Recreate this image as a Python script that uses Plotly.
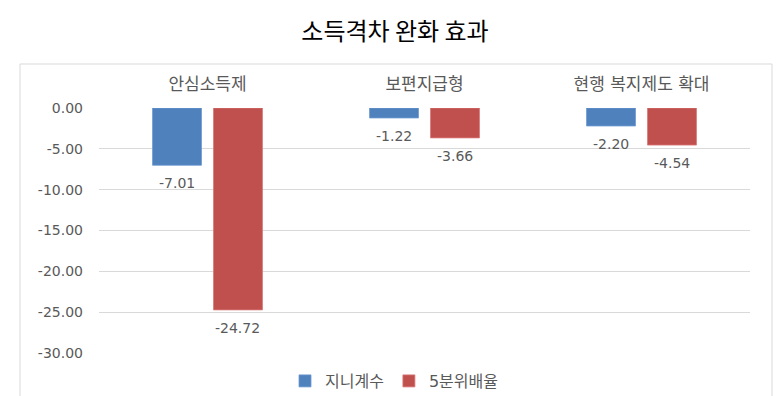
import plotly.graph_objects as go

categories = ["안심소득제", "보편지급형", "현행 복지제도 확대"]
gini = [-7.01, -1.22, -2.20]
quintile = [-24.72, -3.66, -4.54]
series_names = ["지니계수", "5분위배율"]
title_text = "소득격차 완화 효과"
tick_values = [0, -5, -10, -15, -20, -25, -30]
tick_labels = ["0.00", "-5.00", "-10.00", "-15.00", "-20.00", "-25.00", "-30.00"]

W, H = 779, 396
ML, MR, MT, MB = 99, 29, 108, 43
PW, PH = W - ML - MR, H - MT - MB

KFONT = "DejaVu Sans, Noto Sans CJK KR, sans-serif"
GRAY = "#595959"
COLORS = ["#4F81BD", "#C0504D"]
EDGES = ["#6E9AD0", "#D9797A"]

BARGAP = 0.438
GROUPGAP = 0.197
cat_px = PW / len(categories)
slot_px = cat_px * (1 - BARGAP) / 2

fig = go.Figure()
annotations = []
for k, (name, vals) in enumerate(zip(series_names, [gini, quintile])):
    fig.add_trace(go.Bar(
        x=categories, y=vals, name=name,
        marker=dict(color=COLORS[k], line=dict(color=EDGES[k], width=0.8)),
    ))
    shift = (k - 0.5) * slot_px
    for c, v in zip(categories, vals):
        annotations.append(dict(
            x=c, y=v, xref="x", yref="y", text=f"{v:.2f}", showarrow=False,
            xshift=shift, yshift=-18, yanchor="middle",
            font=dict(color=GRAY, size=14, family=KFONT)))

def px_x(p):
    return (p - ML) / PW

def px_y(p):
    return (MT + PH - p) / PH

fig.update_layout(
    width=W, height=H,
    margin=dict(l=ML, r=MR, t=MT, b=MB, autoexpand=False),
    paper_bgcolor="white", plot_bgcolor="white",
    barmode="group", bargap=BARGAP, bargroupgap=GROUPGAP,
    title=dict(text=title_text, x=395 / W, xref="container", xanchor="center",
               y=1 - 32 / H, yref="container", yanchor="middle",
               font=dict(size=24, color="#000000", family="Noto Sans CJK KR")),
    font=dict(family=KFONT, color=GRAY),
    legend=dict(orientation="h", x=394 / W, xref="container", xanchor="center",
                y=1 - 381 / H, yref="container", yanchor="middle",
                font=dict(size=16, color=GRAY, family=KFONT),
                itemwidth=30, traceorder="normal"),
    annotations=annotations,
    shapes=[dict(type="rect", xref="paper", yref="paper",
                 x0=px_x(20), x1=px_x(772), y0=px_y(420), y1=px_y(64),
                 line=dict(color="#D9D9D9", width=1), layer="below")],
)
fig.update_xaxes(side="top", showgrid=False, showline=False, zeroline=False,
                 ticks="", ticklabelstandoff=14,
                 tickfont=dict(size=17, color=GRAY, family=KFONT))
fig.update_yaxes(range=[-30, 0], tickvals=tick_values, ticktext=tick_labels,
                 showgrid=True, gridcolor="#D9D9D9", gridwidth=1,
                 zeroline=False, showline=False, ticks="",
                 ticklabelstandoff=15,
                 tickfont=dict(size=14, color=GRAY, family=KFONT))

fig.write_html("out.html")
